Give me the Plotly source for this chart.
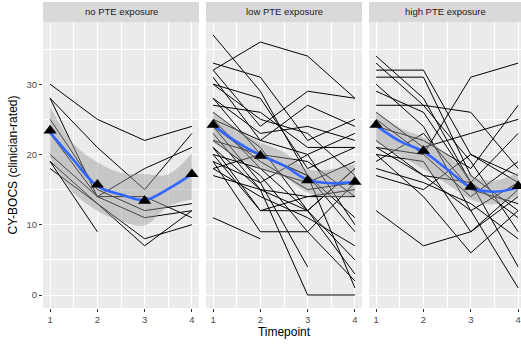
import plotly.graph_objects as go

timepoints = [1, 2, 3, 4]
panel_titles = ["no PTE exposure", "low PTE exposure", "high PTE exposure"]

# individual trajectories (CY-BOCS at timepoints 1-4)
no_pte_subjects = [
    [30, 25, 22, 24],
    [28, 21, 15, 23],
    [28, 14, 18, 21],
    [25, 15, 12, 13],
    [23, 14, 14, 11],
    [20, 14, 11, 12],
    [19, 13, 7, 12],
    [19, 9, None, None],
    [18, 13, 8, 10],
]
low_pte_subjects = [
    [37, 29, 17, 9],
    [32, 36, 34, 28],
    [33, 31, 22, 25],
    [32, 24, 29, 28],
    [31, 22, 27, 24],
    [30, 28, 18, 21],
    [30, 25, 23, 17],
    [28, 23, 24, 22],
    [28, 20, 17, 11],
    [27, 26, 21, 21],
    [26, 21, 12, 5],
    [25, 22, 20, 23],
    [25, 18, 12, 3],
    [24, 19, 15, 16],
    [23, 15, 12, 18],
    [22, 20, 19, 14],
    [22, 17, 9, 2],
    [21, 12, 12, 18],
    [21, 15, 0, 0],
    [20, 18, 16, 19],
    [20, 12, 14, 14],
    [19, 9, 9, 16],
    [19, 16, 4, None],
    [18, 14, 11, 7],
    [18, 20, 17, 1],
    [17, 15, 14, 15],
    [11, 8, None, None],
    [24, 16, 20, 10],
]
high_pte_subjects = [
    [34, 28, 16, 11],
    [33, 27, 19, 9],
    [32, 32, 20, 17],
    [31, 31, 17, 12],
    [30, 24, 12, 16],
    [29, 26, 16, 4],
    [27, 27, 26, 18],
    [26, 21, 23, 25],
    [24, 22, 18, 27],
    [21, 20, 31, 33],
    [21, 17, 16, 23],
    [20, 19, 9, 14],
    [19, 23, 15, 13],
    [18, 16, 13, 8],
    [17, 15, 20, 16],
    [12, 7, 9, 15],
    [22, 17, 12, 1],
    [20, 14, 6, 12],
    [25, 20, 14, 19],
]

# group means (triangles)
no_pte_means = [23.4, 15.7, 13.4, 17.2]
low_pte_means = [24.2, 19.8, 16.3, 16.1]
high_pte_means = [24.2, 20.5, 15.4, 15.5]

# loess smooth and confidence band, read at half-timepoint steps
smooth_x = [1, 1.5, 2, 2.5, 3, 3.5, 4]
no_pte_smooth = [23.1, 19.2, 15.5, 14.3, 13.5, 15.1, 17.2]
no_pte_upper = [26.8, 21.5, 18.9, 17.4, 17.2, 17.2, 20.2]
no_pte_lower = [19.5, 14.5, 12.0, 10.5, 9.9, 12.6, 13.6]
low_pte_smooth = [24.2, 21.8, 19.9, 18.4, 16.4, 15.9, 16.1]
low_pte_upper = [26.2, 23.6, 21.7, 20.3, 17.9, 17.9, 18.6]
low_pte_lower = [21.7, 19.6, 17.9, 16.8, 14.6, 13.9, 14.1]
high_pte_smooth = [24.1, 21.9, 20.4, 17.9, 15.3, 14.7, 15.3]
high_pte_upper = [26.2, 23.8, 22.4, 20.0, 17.0, 16.3, 17.4]
high_pte_lower = [21.7, 19.8, 17.9, 15.8, 13.6, 12.9, 14.1]

panels = [
    (no_pte_subjects, no_pte_means, no_pte_smooth, no_pte_upper, no_pte_lower),
    (low_pte_subjects, low_pte_means, low_pte_smooth, low_pte_upper, low_pte_lower),
    (high_pte_subjects, high_pte_means, high_pte_smooth, high_pte_upper, high_pte_lower),
]

W, H = 521, 345
ML, MR, MT, MB = 43, 0, 22, 37
plot_w = W - ML - MR
plot_h = H - MT - MB
panel_px = [(43, 199), (206, 362), (369, 521)]
x_ranges = [[0.85, 4.15], [0.85, 4.15], [0.85, 4.06]]

fig = go.Figure()
for i, (subs, means, sm, up, lo) in enumerate(panels):
    xa = "x" if i == 0 else f"x{i+1}"
    ya = "y" if i == 0 else f"y{i+1}"
    for s in subs:
        fig.add_trace(go.Scatter(x=timepoints, y=s, mode="lines",
                                 line=dict(color="black", width=1),
                                 xaxis=xa, yaxis=ya, showlegend=False, hoverinfo="skip"))
    fig.add_trace(go.Scatter(x=smooth_x, y=lo, mode="lines", line=dict(width=0, shape="spline"),
                             xaxis=xa, yaxis=ya, showlegend=False, hoverinfo="skip"))
    fig.add_trace(go.Scatter(x=smooth_x, y=up, mode="lines", line=dict(width=0, shape="spline"),
                             fill="tonexty", fillcolor="rgba(153,153,153,0.45)",
                             xaxis=xa, yaxis=ya, showlegend=False, hoverinfo="skip"))
    fig.add_trace(go.Scatter(x=smooth_x, y=sm, mode="lines",
                             line=dict(color="#3366FF", width=2.6, shape="spline"),
                             xaxis=xa, yaxis=ya, showlegend=False))
    fig.add_trace(go.Scatter(x=timepoints, y=means, mode="markers",
                             marker=dict(symbol="triangle-up", size=11.5, color="black"),
                             xaxis=xa, yaxis=ya, showlegend=False))

tickfont = dict(family="Liberation Sans, Arial, sans-serif", size=9.5, color="#4D4D4D")
layout = dict(
    width=W, height=H,
    margin=dict(l=ML, r=MR, t=MT, b=MB, pad=0, autoexpand=False),
    paper_bgcolor="white", plot_bgcolor="#EBEBEB",
    font=dict(family="Liberation Sans, Arial, sans-serif"),
)
for i in range(3):
    x0, x1 = panel_px[i]
    dom = [(x0 - ML) / plot_w, (x1 - ML) / plot_w]
    key = "xaxis" if i == 0 else f"xaxis{i+1}"
    ykey = "yaxis" if i == 0 else f"yaxis{i+1}"
    ya = "y" if i == 0 else f"y{i+1}"
    xa = "x" if i == 0 else f"x{i+1}"
    layout[key] = dict(
        domain=dom, range=x_ranges[i], anchor=ya, automargin=False,
        tickmode="array", tickvals=timepoints, ticktext=[str(t) for t in timepoints],
        ticks="outside", ticklen=3, tickcolor="#333333", tickwidth=1,
        showgrid=True, gridcolor="white", gridwidth=1.1,
        minor=dict(tickmode="array", tickvals=[1.5, 2.5, 3.5], showgrid=True,
                   gridcolor="white", gridwidth=0.5, ticks=""),
        zeroline=False, showline=False, tickfont=tickfont,
    )
    layout[ykey] = dict(
        domain=[0, 1], range=[-1.85, 38.85], anchor=xa, automargin=False,
        tickmode="array", tickvals=[0, 10, 20, 30],
        ticks="outside" if i == 0 else "", ticklen=3, tickcolor="#333333", tickwidth=1,
        showticklabels=(i == 0),
        showgrid=True, gridcolor="white", gridwidth=1.1,
        minor=dict(tickmode="array", tickvals=[5, 15, 25, 35], showgrid=True,
                   gridcolor="white", gridwidth=0.5, ticks=""),
        zeroline=False, showline=False, tickfont=tickfont,
    )
    if i != 0:
        layout[ykey]["matches"] = "y"

layout["yaxis"]["title"] = dict(text="CY-BOCS (clinician-rated)", standoff=6,
                                font=dict(size=12, color="black"))
layout["xaxis2"]["title"] = dict(text="Timepoint", standoff=3,
                                 font=dict(size=12, color="black"))
fig.update_layout(**layout)

strip_top = 1 + 20 / plot_h
for i in range(3):
    xd = "x domain" if i == 0 else f"x{i+1} domain"
    fig.add_shape(type="rect", xref=xd, yref="paper", x0=0, x1=1, y0=1, y1=strip_top,
                  fillcolor="#D9D9D9", line=dict(width=0), layer="below")
    fig.add_annotation(xref=xd, yref="paper", x=0.5, y=(1 + strip_top) / 2,
                       text=panel_titles[i], showarrow=False,
                       font=dict(size=9.5, color="#1A1A1A"), xanchor="center", yanchor="middle")

fig.write_html("out.html", config={"displayModeBar": False},
               post_script="document.body.style.margin='0';document.body.style.overflow='hidden';")
